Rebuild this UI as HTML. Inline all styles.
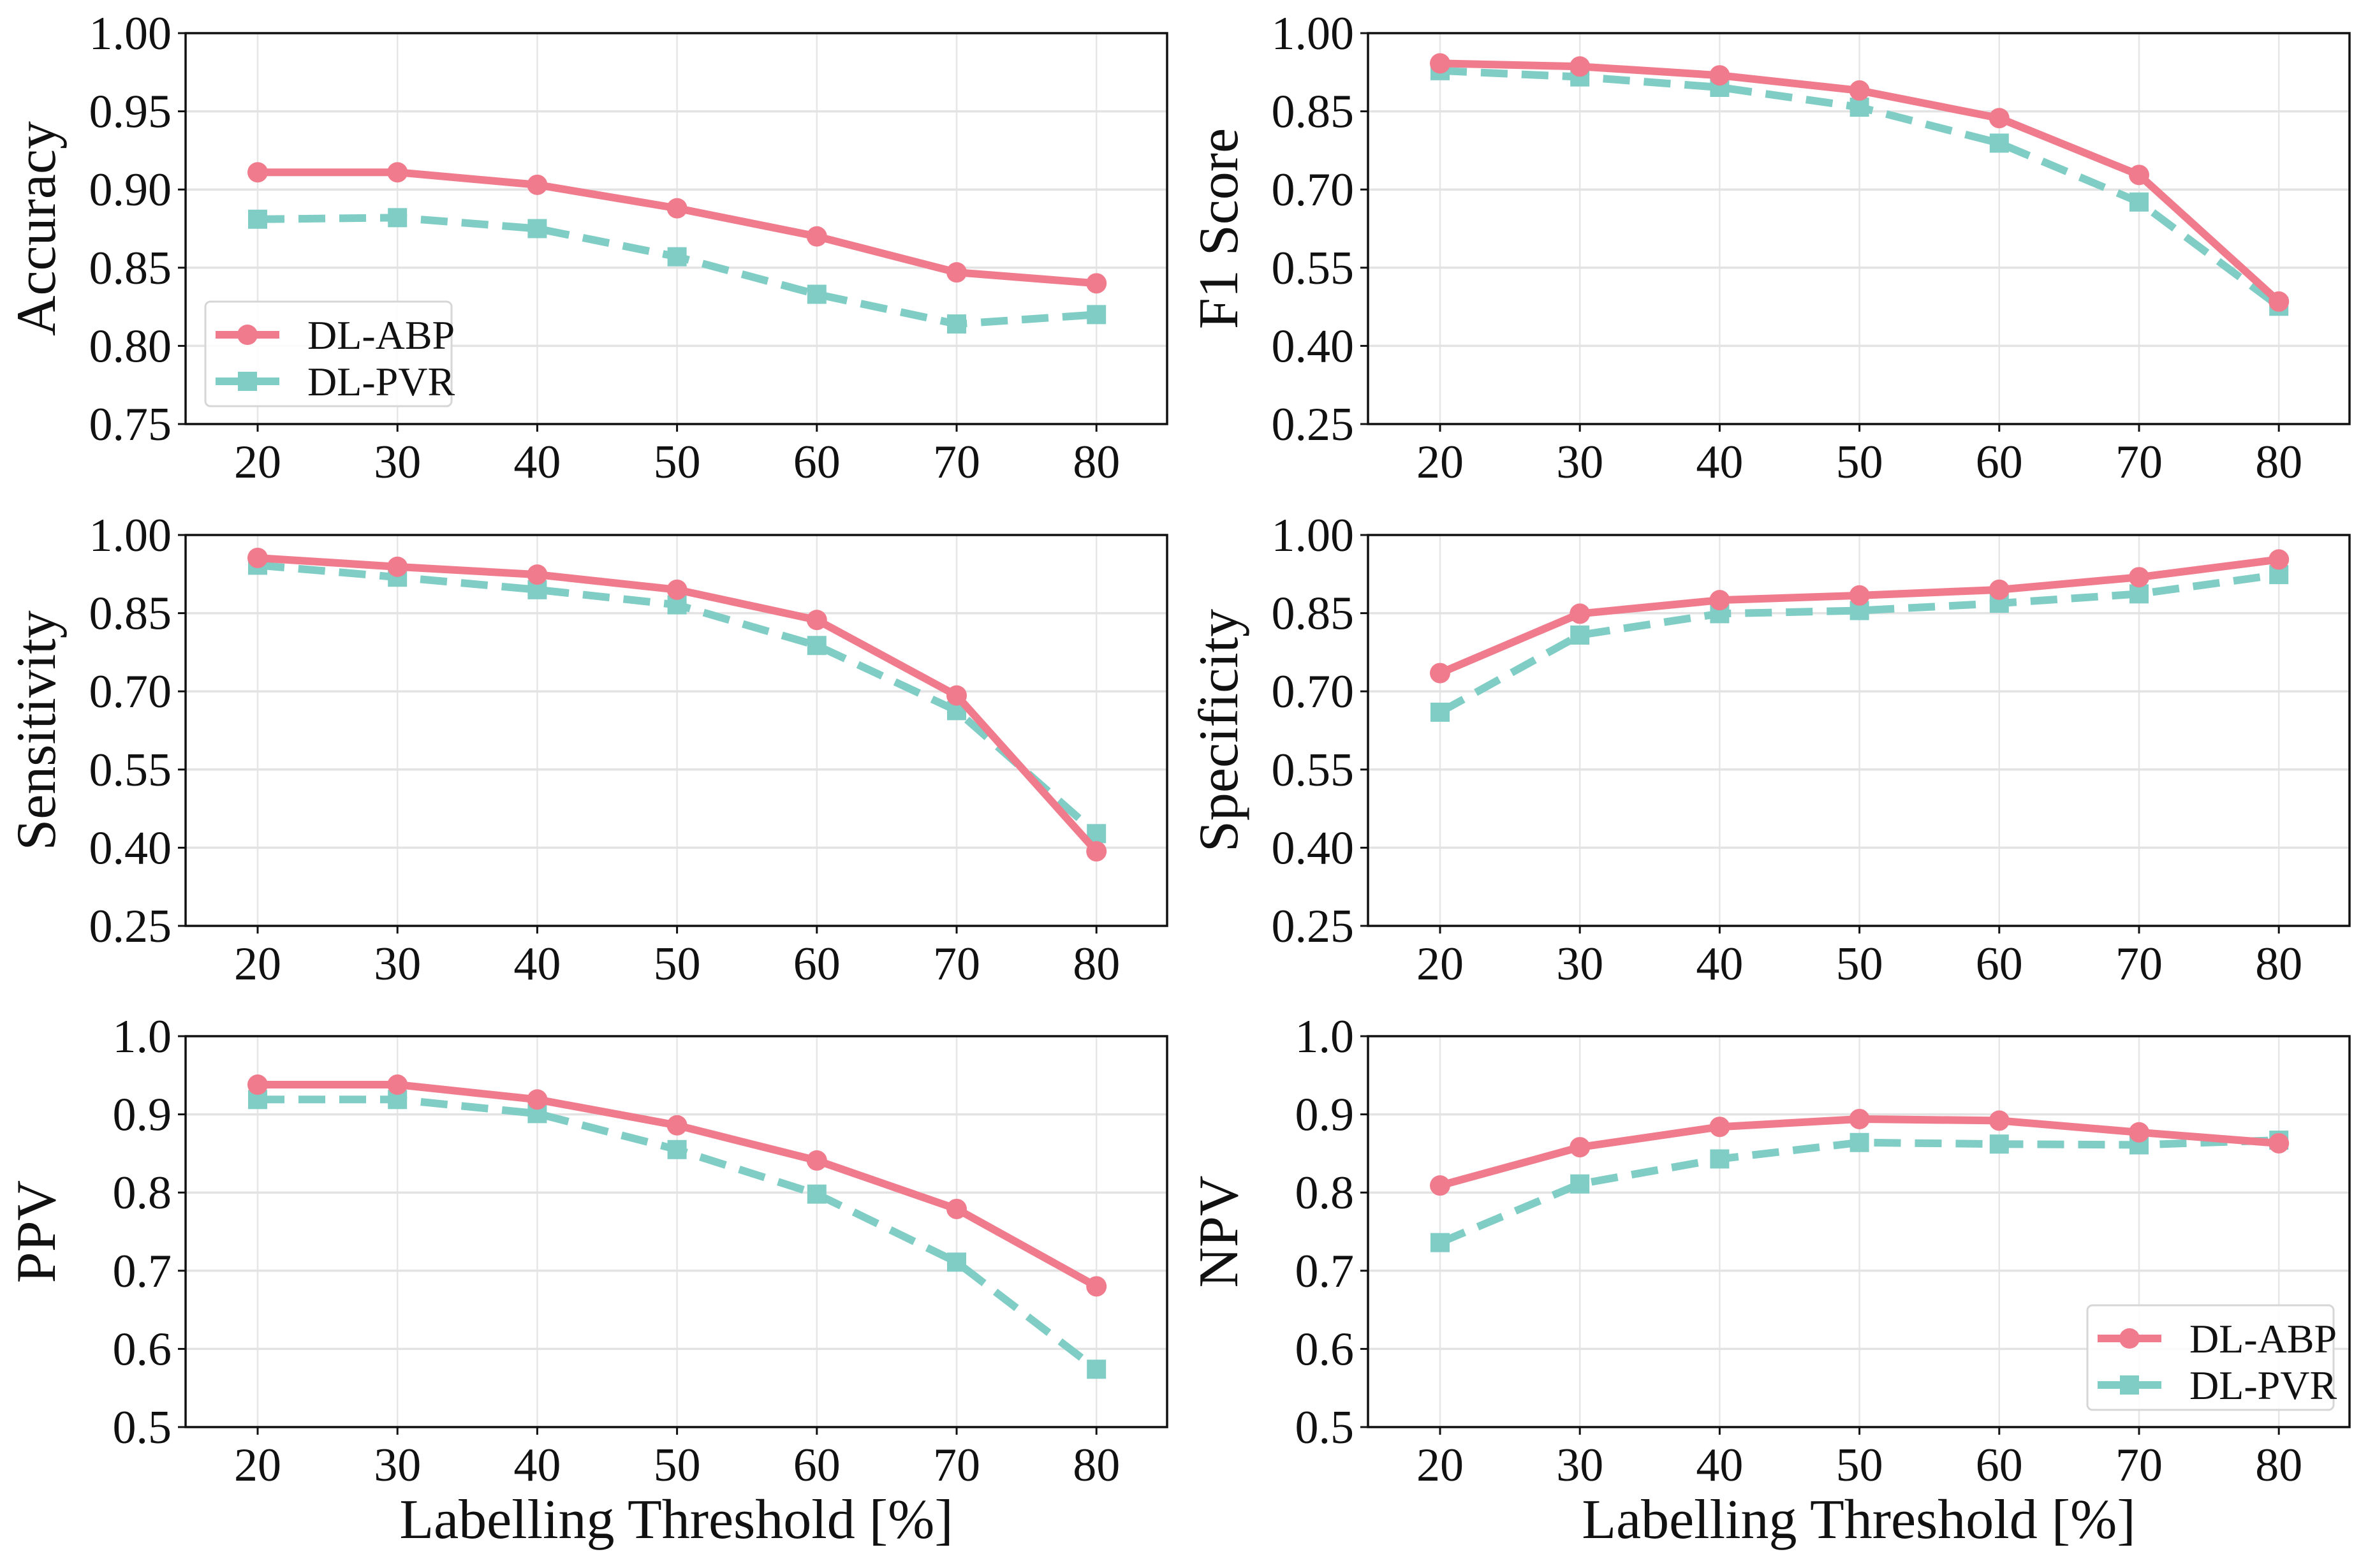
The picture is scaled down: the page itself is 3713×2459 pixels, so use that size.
<!DOCTYPE html>
<html><head><meta charset="utf-8"><style>
html,body{margin:0;padding:0;background:#fff}
svg{display:block}
text{font-family:"Liberation Serif","DejaVu Serif",serif;fill:#111}
</style></head><body>
<svg id="fig" width="3713" height="2459" viewBox="0 0 3713 2459" xmlns="http://www.w3.org/2000/svg"></svg>
<script>
const thresholds=[20,30,40,50,60,70,80];
const accABP=[0.911,0.911,0.903,0.888,0.870,0.847,0.840];
const accPVR=[0.881,0.882,0.875,0.857,0.833,0.814,0.820];
const f1ABP=[0.942,0.936,0.919,0.890,0.837,0.728,0.485];
const f1PVR=[0.928,0.916,0.896,0.858,0.789,0.676,0.476];
const senABP=[0.956,0.939,0.924,0.895,0.837,0.692,0.393];
const senPVR=[0.942,0.919,0.895,0.866,0.788,0.663,0.427];
const speABP=[0.735,0.849,0.875,0.884,0.895,0.919,0.953];
const spePVR=[0.660,0.808,0.849,0.855,0.869,0.887,0.924];
const ppvABP=[0.938,0.938,0.919,0.886,0.841,0.779,0.680];
const ppvPVR=[0.919,0.919,0.901,0.855,0.798,0.711,0.574];
const npvABP=[0.809,0.858,0.884,0.894,0.892,0.877,0.863];
const npvPVR=[0.736,0.811,0.843,0.864,0.862,0.861,0.867];
const ticksAcc=["0.75","0.80","0.85","0.90","0.95","1.00"];
const ticksWide=["0.25","0.40","0.55","0.70","0.85","1.00"];
const ticksPV=["0.5","0.6","0.7","0.8","0.9","1.0"];
const xTickLabels=["20","30","40","50","60","70","80"];

const NS="http://www.w3.org/2000/svg";
const svg=document.getElementById('fig');
const PINK="#ef7b8c", TEAL="#7fcdc4";
function mk(tag,attrs,parent){const e=document.createElementNS(NS,tag);for(const k in attrs)e.setAttribute(k,attrs[k]);(parent||svg).appendChild(e);return e;}

const cols=[291,2145], rows=[52,839,1625], W=1539, H=613;
const panels=[
 {name:'accuracy',label:'Accuracy',c:0,r:0,ticks:ticksAcc,a:accABP,b:accPVR,legend:'tl'},
 {name:'f1-score',label:'F1 Score',c:1,r:0,ticks:ticksWide,a:f1ABP,b:f1PVR},
 {name:'sensitivity',label:'Sensitivity',c:0,r:1,ticks:ticksWide,a:senABP,b:senPVR},
 {name:'specificity',label:'Specificity',c:1,r:1,ticks:ticksWide,a:speABP,b:spePVR},
 {name:'ppv',label:'PPV',c:0,r:2,ticks:ticksPV,a:ppvABP,b:ppvPVR,xlabel:true},
 {name:'npv',label:'NPV',c:1,r:2,ticks:ticksPV,a:npvABP,b:npvPVR,xlabel:true,legend:'br'}
];

function square(g,cx,cy,s,color){return mk('rect',{x:cx-s/2,y:cy-s/2,width:s,height:s,fill:color},g);}

panels.forEach(p=>{
  const L=cols[p.c], T=rows[p.r];
  const g=mk('g',{});
  
  
  const ymin=parseFloat(p.ticks[0]), ymax=parseFloat(p.ticks[p.ticks.length-1]);
  const xs=v=>L+113+(v-20)*21.92;
  const ys=v=>T+H-(v-ymin)/(ymax-ymin)*H;
  thresholds.forEach(t=>{mk('line',{x1:xs(t),x2:xs(t),y1:T,y2:T+H,stroke:'#e6e6e6','stroke-width':2.5},g);});
  p.ticks.forEach(t=>{const y=ys(parseFloat(t));mk('line',{x1:L,x2:L+W,y1:y,y2:y,stroke:'#e3e3e3','stroke-width':3.5},g);});
  const drawSeries=(vals,color,dash,isSq,nm)=>{
    const sg=mk('g',{},g);
    
    
    const pts=thresholds.map((t,i)=>xs(t)+','+ys(vals[i])).join(' ');
    const pl=mk('polyline',{points:pts,fill:'none',stroke:color,'stroke-width':12,'stroke-linejoin':'round'},sg);
    if(dash)pl.setAttribute('stroke-dasharray',dash);
    thresholds.forEach((t,i)=>{
      let m;
      if(isSq)m=square(sg,xs(t),ys(vals[i]),30,color);
      else m=mk('circle',{cx:xs(t),cy:ys(vals[i]),r:16,fill:color},sg);
      
      
    });
  };
  drawSeries(p.b,TEAL,'42 22',true,p.name+'-dl-pvr-line');
  drawSeries(p.a,PINK,null,false,p.name+'-dl-abp-line');
  mk('rect',{x:L,y:T,width:W,height:H,fill:'none',stroke:'#111','stroke-width':3.5},g);
  p.ticks.forEach(t=>{const y=ys(parseFloat(t));
    mk('line',{x1:L-12,x2:L,y1:y,y2:y,stroke:'#111','stroke-width':3},g);
    const tx=mk('text',{x:L-22,y:y+25,'font-size':74,'text-anchor':'end'},g);tx.textContent=t;
    
    
  });
  thresholds.forEach((t,i)=>{
    mk('line',{x1:xs(t),x2:xs(t),y1:T+H,y2:T+H+12,stroke:'#111','stroke-width':3},g);
    const tx=mk('text',{x:xs(t),y:T+H+84,'font-size':74,'text-anchor':'middle'},g);tx.textContent=xTickLabels[i];
    
    
  });
  const lx=L-205, ly=T+H/2;
  const yl=mk('text',{x:lx,y:ly,'font-size':88,'text-anchor':'middle',transform:`rotate(-90 ${lx} ${ly})`},g);
  yl.textContent=p.label;
  
  
  if(p.xlabel){
    const xl=mk('text',{x:L+W/2,y:2412,'font-size':88,'text-anchor':'middle'},g);
    xl.textContent='Labelling Threshold [%]';
    
    
  }
  if(p.legend){
    let bx,by;
    if(p.legend==='tl'){bx=322;by=473;}else{bx=3273;by=2047;}
    const lg=mk('g',{},g);
    
    
    mk('rect',{x:bx,y:by,width:386,height:164,rx:8,fill:'#fff','fill-opacity':0.85,stroke:'#d6d6d6','stroke-width':3},lg);
    const e1=mk('g',{},lg);
    
    
    mk('line',{x1:bx+16,x2:bx+116,y1:by+52,y2:by+52,stroke:PINK,'stroke-width':12},e1);
    mk('circle',{cx:bx+66,cy:by+52,r:16,fill:PINK},e1);
    const t1=mk('text',{x:bx+160,y:by+74,'font-size':64},e1);t1.textContent='DL-ABP';
    const e2=mk('g',{},lg);
    
    
    mk('line',{x1:bx+16,x2:bx+116,y1:by+125,y2:by+125,stroke:TEAL,'stroke-width':12,'stroke-dasharray':'42 22'},e2);
    square(e2,bx+66,by+125,30,TEAL);
    const t2=mk('text',{x:bx+160,y:by+147,'font-size':64},e2);t2.textContent='DL-PVR';
  }
});
</script>
</body></html>
